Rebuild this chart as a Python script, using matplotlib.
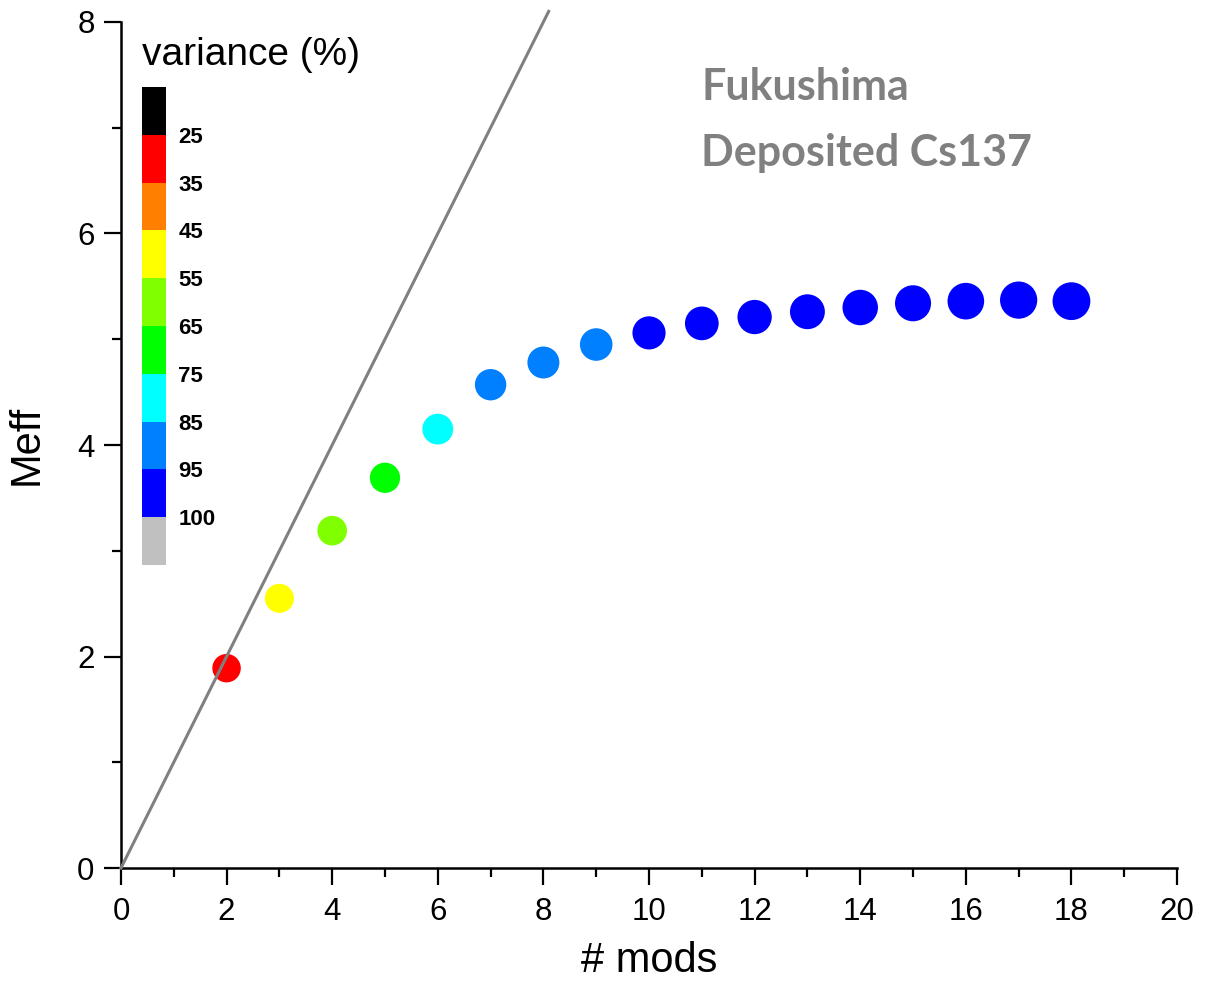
import numpy as np
import matplotlib
matplotlib.use("Agg")
import matplotlib.pyplot as plt
from matplotlib.colors import ListedColormap, BoundaryNorm

plt.rcParams['font.family'] = ['Liberation Sans', 'DejaVu Sans']

# Data
mods = [2, 3, 4, 5, 6, 7, 8, 9, 10, 11, 12, 13, 14, 15, 16, 17, 18]
meff = [1.89, 2.55, 3.19, 3.69, 4.15, 4.57, 4.78, 4.95, 5.06, 5.15,
        5.21, 5.26, 5.30, 5.34, 5.36, 5.37, 5.36]
variance = [30, 50, 60, 70, 80, 88, 91, 93, 96, 97, 97.5, 98, 98.5, 99, 99.3, 99.6, 99.8]

# variance classes of the legend
var_bounds = [25, 35, 45, 55, 65, 75, 85, 95, 100]
var_colors = ['#ff0000', '#ff8000', '#ffff00', '#80ff00', '#00ff00',
              '#00ffff', '#0080ff', '#0000ff']
under_color = '#000000'
over_color = '#c0c0c0'

# 1:1 reference line
ref_x = [0, 8.1]
ref_y = [0, 8.1]

cmap = ListedColormap(var_colors)
cmap.set_under(under_color)
cmap.set_over(over_color)
norm = BoundaryNorm(var_bounds, cmap.N)

fig = plt.figure(figsize=(12.06, 9.89), dpi=100)
ax = fig.add_axes([0.1003, 0.1223, 0.8757, 0.8555])

# marker size grows slowly with number of modes
sizes = [(20.5 + 0.42 * (m - 2)) ** 2 for m in mods]
ax.scatter(mods, meff, c=variance, cmap=cmap, norm=norm, s=sizes,
           edgecolors='none', zorder=2)
ax.plot(ref_x, ref_y, color='#808080', lw=2.2, clip_on=False, zorder=3)

ax.set_xlim(0, 20)
ax.set_ylim(0, 8)
ax.set_xticks(np.arange(0, 21, 2))
ax.set_xticks(np.arange(0, 21, 1), minor=True)
ax.set_yticks(np.arange(0, 9, 2))
ax.set_yticks(np.arange(0, 9, 1), minor=True)

for side in ['top', 'right']:
    ax.spines[side].set_visible(False)
for side in ['left', 'bottom']:
    ax.spines[side].set_linewidth(1.8)

ax.tick_params(which='major', direction='out', length=12, width=1.6,
               labelsize=22.5)
ax.tick_params(axis='x', which='major', pad=9)
ax.tick_params(axis='y', which='major', pad=7)
ax.tick_params(which='minor', direction='out', length=6.5, width=1.6)

ax.set_xlabel('# mods', fontsize=30, labelpad=10)
ax.set_ylabel('Meff', fontsize=30, labelpad=22)

ax.text(0.5496, 0.923, 'Fukushima', transform=ax.transAxes, fontsize=31,
        fontweight='bold', color='#808080', family='Lato', va='center')
ax.text(0.5496, 0.845, 'Deposited Cs137', transform=ax.transAxes, fontsize=31,
        fontweight='bold', color='#808080', family='Lato', va='center')

# variance legend as a discrete colorbar
cax = fig.add_axes([0.1177, 0.4287, 0.0199, 0.4833])
cb = fig.colorbar(plt.cm.ScalarMappable(norm=norm, cmap=cmap), cax=cax,
                  extend='both', extendrect=True, extendfrac=1 / 8,
                  spacing='uniform', ticks=var_bounds)
cb.outline.set_visible(False)
cax.invert_yaxis()
cax.tick_params(length=0, pad=9)
for lab in cax.get_yticklabels():
    lab.set_fontsize(16)
    lab.set_fontweight('bold')

fig.text(142 / 1206, 1 - 55 / 989, 'variance (%)', fontsize=28, va='center')

fig.savefig('out.png', dpi=100)
